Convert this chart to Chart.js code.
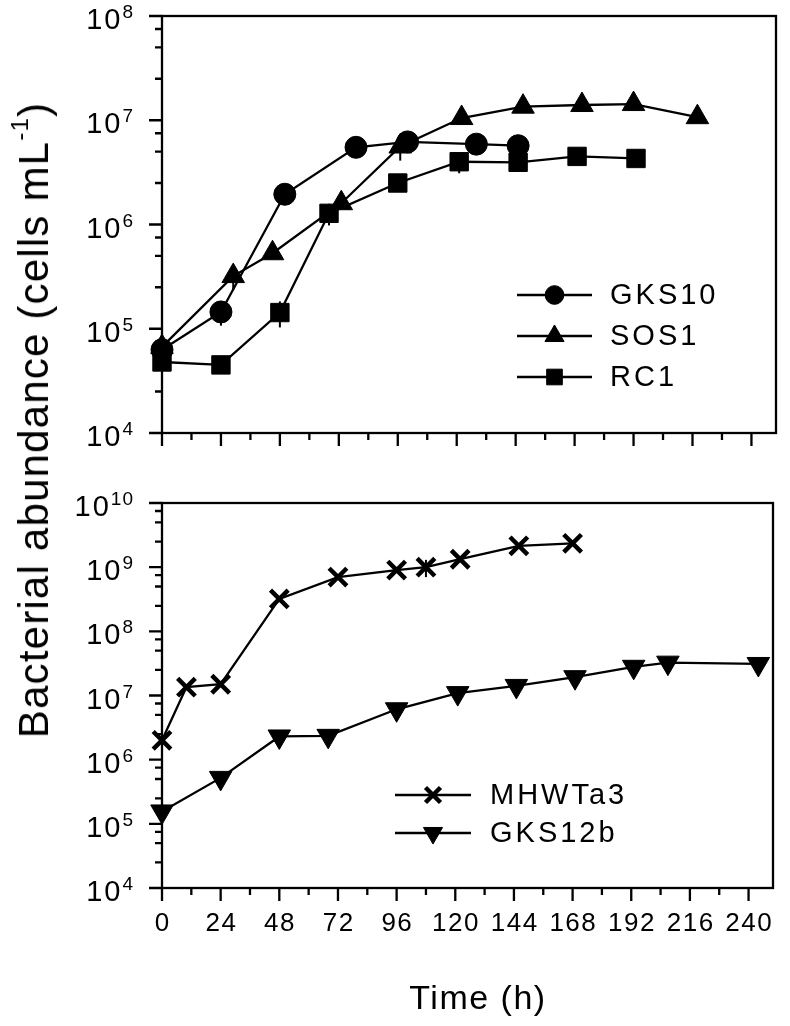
<!DOCTYPE html>
<html>
<head>
<meta charset="utf-8">
<script src="https://cdn.jsdelivr.net/npm/chart.js@4/dist/chart.umd.min.js"></script>
<style>
  body { margin: 0; background: #fff; font-family: "Liberation Sans", Arial, sans-serif; }
  #wrap { position: relative; width: 790px; height: 1026px; overflow: hidden; }
  canvas { position: absolute; left: 0; }
  #topChart { top: 0; }
  #bottomChart { top: 460px; }
  #ytitle {
    position: absolute; left: 34px; top: 420px;
    transform: translate(-50%, -50%) rotate(-90deg);
    white-space: nowrap; font-size: 42px; letter-spacing: 1.2px; color: #000;
  }
  #ytitle sup { font-size: 24px; vertical-align: 20px; line-height: 0; }
  #xtitle {
    position: absolute; left: 478px; top: 997px;
    transform: translate(-50%, -50%);
    white-space: nowrap; font-size: 34px; letter-spacing: 1.5px; color: #000;
  }
</style>
</head>
<body>
<div id="wrap">
  <canvas id="topChart" width="790" height="460"></canvas>
  <canvas id="bottomChart" width="790" height="566"></canvas>
  <div id="ytitle">Bacterial abundance (cells mL<sup>-1</sup>)</div>
  <div id="xtitle">Time (h)</div>
</div>
<script>
// ----- data -----
const gks10Time = [0, 24, 50, 79, 100, 128, 145];
const gks10Cells = [6.3e4, 1.45e5, 1.95e6, 5.5e6, 6.2e6, 5.9e6, 5.7e6];
const gks10Err = [0, 3.8e4, 0, 0, 0, 0, 0];

const sos1Time = [0, 29, 45, 73, 97, 122, 147, 171, 192, 218];
const sos1Cells = [6.7e4, 3.2e5, 5.3e5, 1.6e6, 5.6e6, 1.05e7, 1.35e7, 1.4e7, 1.43e7, 1.07e7];
const sos1Err = [0, 8.6e4, 0, 0, 1.5e6, 0, 0, 0, 0, 0];

const rc1Time = [0, 24, 48, 68, 96, 121, 145, 169, 193];
const rc1Cells = [4.8e4, 4.5e4, 1.43e5, 1.28e6, 2.5e6, 4.0e6, 3.95e6, 4.5e6, 4.3e6];
const rc1Err = [0, 0, 4e4, 3e5, 0, 9e5, 0, 0, 0];

const mhwTime = [0, 10, 24, 48, 72, 96, 108, 122, 146, 168];
const mhwCells = [2.0e6, 1.35e7, 1.5e7, 3.2e8, 7.0e8, 9.0e8, 1.0e9, 1.33e9, 2.15e9, 2.35e9];
const mhwErr = [0, 0, 0, 0, 0, 0, 3e8, 0, 0, 0];

const gks12Time = [0, 24, 48, 68, 96, 121, 145, 169, 193, 207, 244];
const gks12Cells = [1.56e5, 5.2e5, 2.3e6, 2.35e6, 6.1e6, 1.09e7, 1.41e7, 1.93e7, 2.8e7, 3.25e7, 3.1e7];
const gks12Err = [0, 0, 0, 0, 0, 0, 0, 0, 0, 0, 0];

// axis ticks
const timeTicks = [0, 24, 48, 72, 96, 120, 144, 168, 192, 216, 240];
const timeMinorTicks = [12, 36, 60, 84, 108, 132, 156, 180, 204, 228];
const topDecades = [4, 5, 6, 7, 8];
const bottomDecades = [4, 5, 6, 7, 8, 9, 10];
const minorSteps = [2.5, 5, 7.5];

const FONT = '"Liberation Sans", Arial, sans-serif';

function toPoints(times, values) {
  return times.map((t, i) => ({ x: t, y: values[i] }));
}

function series(label, times, values, errs, style) {
  return Object.assign({
    label: label,
    data: toPoints(times, values),
    errors: errs,
    borderColor: "#000",
    backgroundColor: "#000",
    pointBackgroundColor: "#000",
    pointBorderColor: "#000",
    borderWidth: 2.3,
    pointBorderWidth: 1,
    tension: 0,
    fill: false,
    clip: false,
  }, style);
}

// frame, tick marks, tick labels
const panelAxes = {
  id: "panelAxes",
  beforeDatasetsDraw(chart, args, opts) {
    const ctx = chart.ctx;
    const a = chart.chartArea;
    const xs = chart.scales.x;
    const ys = chart.scales.y;
    ctx.save();
    ctx.strokeStyle = "#000";
    ctx.lineWidth = 2.3;
    ctx.strokeRect(a.left, a.top, a.right - a.left, a.bottom - a.top);
    ctx.beginPath();
    // x ticks
    timeTicks.forEach(t => {
      const px = xs.getPixelForValue(t);
      ctx.moveTo(px, a.bottom); ctx.lineTo(px, a.bottom + 13);
    });
    timeMinorTicks.forEach(t => {
      const px = xs.getPixelForValue(t);
      ctx.moveTo(px, a.bottom); ctx.lineTo(px, a.bottom + 7);
    });
    // y ticks
    opts.decades.forEach((d, i) => {
      const py = ys.getPixelForValue(Math.pow(10, d));
      ctx.moveTo(a.left - 13, py); ctx.lineTo(a.left, py);
      if (i < opts.decades.length - 1) {
        minorSteps.forEach(m => {
          const my = ys.getPixelForValue(m * Math.pow(10, d));
          ctx.moveTo(a.left - 7, my); ctx.lineTo(a.left, my);
        });
      }
    });
    ctx.stroke();
    ctx.restore();
  },
  afterDraw(chart, args, opts) {
    const ctx = chart.ctx;
    const a = chart.chartArea;
    const xs = chart.scales.x;
    const ys = chart.scales.y;
    ctx.save();
    ctx.fillStyle = "#000";
    ctx.textAlign = "left";
    ctx.textBaseline = "alphabetic";
    // y labels as 10^n
    opts.decades.forEach(d => {
      const py = ys.getPixelForValue(Math.pow(10, d));
      const exp = String(d);
      ctx.font = "19px " + FONT;
      ctx.letterSpacing = "1px";
      const ew = ctx.measureText(exp).width;
      ctx.font = "29px " + FONT;
      ctx.letterSpacing = "2px";
      const bw = ctx.measureText("10").width;
      const x0 = 134 - ew - bw;
      ctx.fillText("10", x0, py + 13);
      ctx.font = "19px " + FONT;
      ctx.letterSpacing = "1px";
      ctx.fillText(exp, x0 + bw, py + 2);
    });
    // x labels
    if (opts.xLabels) {
      ctx.font = "26px " + FONT;
      ctx.letterSpacing = "1.5px";
      timeTicks.forEach(t => {
        const px = xs.getPixelForValue(t);
        const s = String(t);
        const w = ctx.measureText(s).width - 1.5;
        ctx.fillText(s, px - w / 2, a.bottom + 43);
      });
    }
    ctx.restore();
  },
};

// error bars drawn under the markers
const errorBars = {
  id: "errorBars",
  beforeDatasetsDraw(chart) {
    const ctx = chart.ctx;
    const ys = chart.scales.y;
    ctx.save();
    ctx.strokeStyle = "#000";
    ctx.lineWidth = 2;
    chart.data.datasets.forEach((ds, i) => {
      const meta = chart.getDatasetMeta(i);
      (ds.errors || []).forEach((e, j) => {
        if (!e) return;
        const v = ds.data[j].y;
        const el = meta.data[j];
        ctx.beginPath();
        ctx.moveTo(el.x, ys.getPixelForValue(v - e));
        ctx.lineTo(el.x, ys.getPixelForValue(v + e));
        ctx.stroke();
      });
    });
    ctx.restore();
  },
};

// legend drawn inside the plot, symbol on a line + label
const innerLegend = {
  id: "innerLegend",
  afterDraw(chart, args, opts) {
    const ctx = chart.ctx;
    ctx.save();
    chart.data.datasets.forEach((ds, i) => {
      const y = opts.rows[i];
      ctx.strokeStyle = "#000";
      ctx.fillStyle = "#000";
      ctx.lineWidth = 2.3;
      ctx.beginPath();
      ctx.moveTo(opts.lineFrom, y);
      ctx.lineTo(opts.lineTo, y);
      ctx.stroke();
      const mid = (opts.lineFrom + opts.lineTo) / 2;
      ctx.lineWidth = ds.pointBorderWidth;
      Chart.helpers.drawPoint(ctx, {
        pointStyle: ds.pointStyle,
        radius: ds.pointRadius * 0.85,
        rotation: ds.pointRotation || 0,
        borderWidth: ds.pointBorderWidth,
      }, mid, y);
      ctx.font = "29px " + FONT;
      ctx.letterSpacing = "3px";
      ctx.textBaseline = "middle";
      ctx.fillText(ds.label, opts.textX, y + 1);
    });
    ctx.restore();
  },
};

function panelOptions(yMin, yMax, padTop, xHeight, decades, xLabels, legend) {
  return {
    responsive: false,
    animation: false,
    layout: { padding: { left: 0, right: 5, top: padTop, bottom: 0 } },
    plugins: {
      legend: { display: false },
      tooltip: { enabled: false },
      panelAxes: { decades: decades, xLabels: xLabels },
      innerLegend: legend,
    },
    scales: {
      x: {
        type: "linear", min: 0, max: 250,
        grid: { display: false }, border: { display: false },
        ticks: { display: false },
        afterFit: s => { s.height = xHeight; },
      },
      y: {
        type: "logarithmic", min: yMin, max: yMax,
        grid: { display: false }, border: { display: false },
        ticks: { display: false },
        afterFit: s => { s.width = 162; },
      },
    },
  };
}

new Chart(document.getElementById("topChart"), {
  type: "line",
  data: {
    datasets: [
      series("GKS10", gks10Time, gks10Cells, gks10Err, { pointStyle: "circle", pointRadius: 11 }),
      series("SOS1", sos1Time, sos1Cells, sos1Err, { pointStyle: "triangle", pointRadius: 13 }),
      series("RC1", rc1Time, rc1Cells, rc1Err, { pointStyle: "rect", pointRadius: 13 }),
    ],
  },
  options: panelOptions(1e4, 1e8, 16, 27, topDecades, false,
    { lineFrom: 517, lineTo: 592, textX: 610, rows: [295, 336, 377] }),
  plugins: [panelAxes, errorBars, innerLegend],
});

new Chart(document.getElementById("bottomChart"), {
  type: "line",
  data: {
    datasets: [
      series("MHWTa3", mhwTime, mhwCells, mhwErr, { pointStyle: "crossRot", pointRadius: 12.5, pointBorderWidth: 4.5 }),
      series("GKS12b", gks12Time, gks12Cells, gks12Err, { pointStyle: "triangle", pointRotation: 180, pointRadius: 13 }),
    ],
  },
  options: panelOptions(1e4, 1e10, 43, 138, bottomDecades, true,
    { lineFrom: 395, lineTo: 471, textX: 490, rows: [335, 373] }),
  plugins: [panelAxes, errorBars, innerLegend],
});
</script>
</body>
</html>
